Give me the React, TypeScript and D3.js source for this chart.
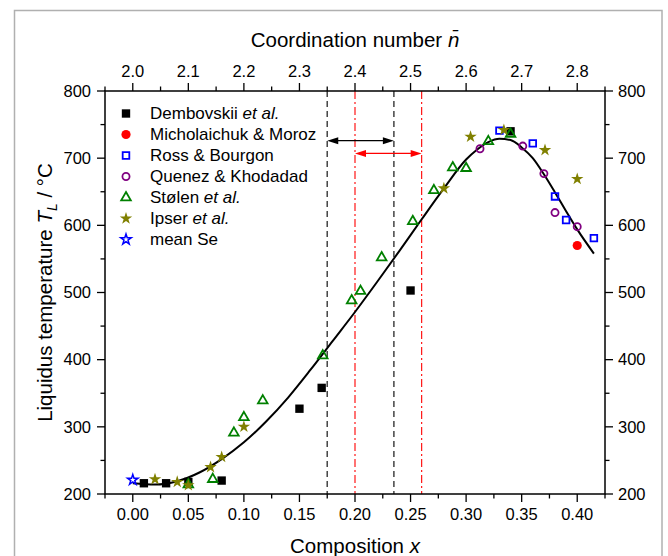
import React from 'react';
import * as d3 from 'd3';

const W = 668;
const H = 556;
const PL = 105, PR = 605, PT = 91, PB = 494;

const xTicks = [0, 0.05, 0.1, 0.15, 0.2, 0.25, 0.3, 0.35, 0.4];
const xTickLabels = ['0.00', '0.05', '0.10', '0.15', '0.20', '0.25', '0.30', '0.35', '0.40'];
const xMinor = [-0.025, 0.025, 0.075, 0.125, 0.175, 0.225, 0.275, 0.325, 0.375, 0.425];
const topTickLabels = ['2.0', '2.1', '2.2', '2.3', '2.4', '2.5', '2.6', '2.7', '2.8'];
const yTicks = [200, 300, 400, 500, 600, 700, 800];
const yMinor = [250, 350, 450, 550, 650, 750];

const dembovskiiX = [0.01, 0.03, 0.05, 0.08, 0.15, 0.17, 0.25, 0.34];
const dembovskiiT = [216, 216, 218, 220, 327, 358, 503, 740];
const micholaichukX = [0.4];
const micholaichukT = [570];
const rossX = [0.33, 0.36, 0.38, 0.39, 0.415];
const rossT = [741, 722, 643, 608, 581];
const quenezX = [0.3125, 0.351, 0.37, 0.38, 0.4];
const quenezT = [714, 718, 677, 619, 598];
const stolenX = [0.05, 0.072, 0.091, 0.1, 0.117, 0.171, 0.197, 0.205, 0.224, 0.252, 0.271, 0.288, 0.3, 0.32, 0.34];
const stolenT = [214, 222, 291, 314, 339, 406, 488, 502, 552, 606, 652, 686, 685, 725, 736];
const ipserX = [0.02, 0.04, 0.05, 0.07, 0.08, 0.1, 0.28, 0.304, 0.334, 0.371, 0.4];
const ipserT = [222, 218, 213, 240, 255, 300, 655, 732, 742, 712, 669];
const meanSeX = [0];
const meanSeT = [221];

const fitX = [0, 0.02, 0.04, 0.06, 0.08, 0.1, 0.12, 0.14, 0.16, 0.18, 0.2, 0.22, 0.24, 0.26, 0.28, 0.3, 0.31, 0.32, 0.33, 0.34, 0.35, 0.36, 0.37, 0.38, 0.39, 0.4, 0.415];
const fitT = [216, 214, 219, 232, 252, 277, 308, 344, 385, 428, 471, 516, 562, 609, 655, 698, 713, 724, 729, 727, 716, 700, 676, 649, 621, 594, 558];

const blackRange = [0.175, 0.235];
const redRange = [0.2, 0.26];
const blackArrowT = 726;
const redArrowT = 707;

const FONT = 'Liberation Sans, Arial, sans-serif';

const x = d3.scaleLinear().domain([-0.025, 0.425]).range([PL, PR]);
const y = d3.scaleLinear().domain([200, 800]).range([PB, PT]);

type Series = {
  xs: number[];
  ts: number[];
  type: d3.SymbolType;
  size: number;
  fill: string;
  stroke: string;
  sw: number;
  label: string;
  italic: string;
};

const series: Series[] = [
  { xs: dembovskiiX, ts: dembovskiiT, type: d3.symbolSquare, size: 70, fill: '#000', stroke: 'none', sw: 0, label: 'Dembovskii ', italic: 'et al.' },
  { xs: micholaichukX, ts: micholaichukT, type: d3.symbolCircle, size: 66, fill: '#ff0000', stroke: 'none', sw: 0, label: 'Micholaichuk & Moroz', italic: '' },
  { xs: rossX, ts: rossT, type: d3.symbolSquare, size: 44, fill: 'none', stroke: '#0000ff', sw: 1.8, label: 'Ross & Bourgon', italic: '' },
  { xs: quenezX, ts: quenezT, type: d3.symbolCircle, size: 40, fill: 'none', stroke: '#800080', sw: 1.8, label: 'Quenez & Khodadad', italic: '' },
  { xs: stolenX, ts: stolenT, type: d3.symbolTriangle, size: 40, fill: 'none', stroke: '#008000', sw: 1.8, label: 'Stølen ', italic: 'et al.' },
  { xs: ipserX, ts: ipserT, type: d3.symbolStar, size: 48, fill: '#808000', stroke: 'none', sw: 0, label: 'Ipser ', italic: 'et al.' },
  { xs: meanSeX, ts: meanSeT, type: d3.symbolStar, size: 34, fill: 'none', stroke: '#0000ff', sw: 1.5, label: 'mean Se', italic: '' },
];

function Arrow({ x0, x1, yy, color }: { x0: number; x1: number; yy: number; color: string }) {
  const hl = 11, hw = 3.5;
  return (
    <g>
      <line x1={x0 + hl - 1} x2={x1 - hl + 1} y1={yy} y2={yy} stroke={color} strokeWidth={1.3} />
      <path d={`M${x0},${yy}L${x0 + hl},${yy - hw}L${x0 + hl},${yy + hw}Z`} fill={color} />
      <path d={`M${x1},${yy}L${x1 - hl},${yy - hw}L${x1 - hl},${yy + hw}Z`} fill={color} />
    </g>
  );
}

export default function App() {
  const line = d3
    .line<number>()
    .x((_, i) => x(fitX[i]))
    .y((d) => y(d))
    .curve(d3.curveMonotoneX);
  const fitPath = line(fitT) || '';

  const fs = 16.5;

  return (
    <svg width={W} height={H} style={{ position: 'absolute', left: 0, top: 0, background: '#fff' }} fontFamily={FONT}>
      <rect x={0} y={0} width={W} height={H} fill="#fff" />
      <rect x={14.5} y={10.5} width={647.5} height={560} fill="none" stroke="#b0b0b0" strokeWidth={1.5} />

      {blackRange.map((v, i) => (
        <line key={'b' + i} x1={x(v)} x2={x(v)} y1={PT} y2={PB} stroke="#444" strokeWidth={1.5} strokeDasharray="6,4" />
      ))}
      {redRange.map((v, i) => (
        <line key={'r' + i} x1={x(v)} x2={x(v)} y1={PT} y2={PB} stroke="#ff0000" strokeWidth={1.1} strokeDasharray="8,3,2,3" />
      ))}
      <Arrow x0={x(blackRange[0])} x1={x(blackRange[1])} yy={y(blackArrowT)} color="#000" />
      <Arrow x0={x(redRange[0])} x1={x(redRange[1])} yy={y(redArrowT)} color="#ff0000" />

      <path d={fitPath} fill="none" stroke="#000" strokeWidth={2} />

      {series.map((s, si) => {
        const p = d3.symbol(s.type, s.size)() || '';
        return (
          <g key={si}>
            {s.xs.map((v, i) => (
              <path key={i} d={p} transform={`translate(${x(v)},${y(s.ts[i])})`} fill={s.fill} stroke={s.stroke} strokeWidth={s.sw} />
            ))}
          </g>
        );
      })}

      <rect x={PL} y={PT} width={PR - PL} height={PB - PT} fill="none" stroke="#000" strokeWidth={1.5} />

      {xTicks.map((v, i) => (
        <g key={'xt' + i}>
          <line x1={x(v)} x2={x(v)} y1={PB} y2={PB + 8} stroke="#000" strokeWidth={1.3} />
          <line x1={x(v)} x2={x(v)} y1={PT} y2={PT - 8} stroke="#000" strokeWidth={1.3} />
          <text x={x(v)} y={520} textAnchor="middle" fontSize={fs}>{xTickLabels[i]}</text>
          <text x={x(v)} y={77} textAnchor="middle" fontSize={fs}>{topTickLabels[i]}</text>
        </g>
      ))}
      {xMinor.map((v, i) => (
        <g key={'xm' + i}>
          <line x1={x(v)} x2={x(v)} y1={PB} y2={PB + 4.5} stroke="#000" strokeWidth={1.3} />
          <line x1={x(v)} x2={x(v)} y1={PT} y2={PT - 4.5} stroke="#000" strokeWidth={1.3} />
        </g>
      ))}

      {yTicks.map((v, i) => (
        <g key={'yt' + i}>
          <line x1={PL} x2={PL - 8} y1={y(v)} y2={y(v)} stroke="#000" strokeWidth={1.3} />
          <line x1={PR} x2={PR + 8} y1={y(v)} y2={y(v)} stroke="#000" strokeWidth={1.3} />
          <text x={91} y={y(v)} dy="0.35em" textAnchor="end" fontSize={fs}>{v}</text>
          <text x={618} y={y(v)} dy="0.35em" textAnchor="start" fontSize={fs}>{v}</text>
        </g>
      ))}
      {yMinor.map((v, i) => (
        <g key={'ym' + i}>
          <line x1={PL} x2={PL - 4.5} y1={y(v)} y2={y(v)} stroke="#000" strokeWidth={1.3} />
          <line x1={PR} x2={PR + 4.5} y1={y(v)} y2={y(v)} stroke="#000" strokeWidth={1.3} />
        </g>
      ))}

      <text x={(PL + PR) / 2} y={553} textAnchor="middle" fontSize={20.5}>
        Composition <tspan fontStyle="italic">x</tspan>
      </text>
      <text x={(PL + PR) / 2} y={47} textAnchor="middle" fontSize={20.5}>
        Coordination number <tspan fontStyle="italic">n&#x0304;</tspan>
      </text>
      <text transform={`translate(52,${(PT + PB) / 2}) rotate(-90)`} textAnchor="middle" fontSize={20.5}>
        Liquidus temperature <tspan fontStyle="italic">T</tspan>
        <tspan fontStyle="italic" fontSize={14} dy={5}>L</tspan>
        <tspan dy={-5}> / °C</tspan>
      </text>

      {series.map((s, i) => {
        const p = d3.symbol(s.type, s.size)() || '';
        const by = 119 + i * 21;
        return (
          <g key={'lg' + i}>
            <path d={p} transform={`translate(126,${by - 5.5})`} fill={s.fill} stroke={s.stroke} strokeWidth={s.sw} />
            <text x={150} y={by} fontSize={17}>
              {s.label}
              {s.italic ? <tspan fontStyle="italic">{s.italic}</tspan> : null}
            </text>
          </g>
        );
      })}
    </svg>
  );
}
